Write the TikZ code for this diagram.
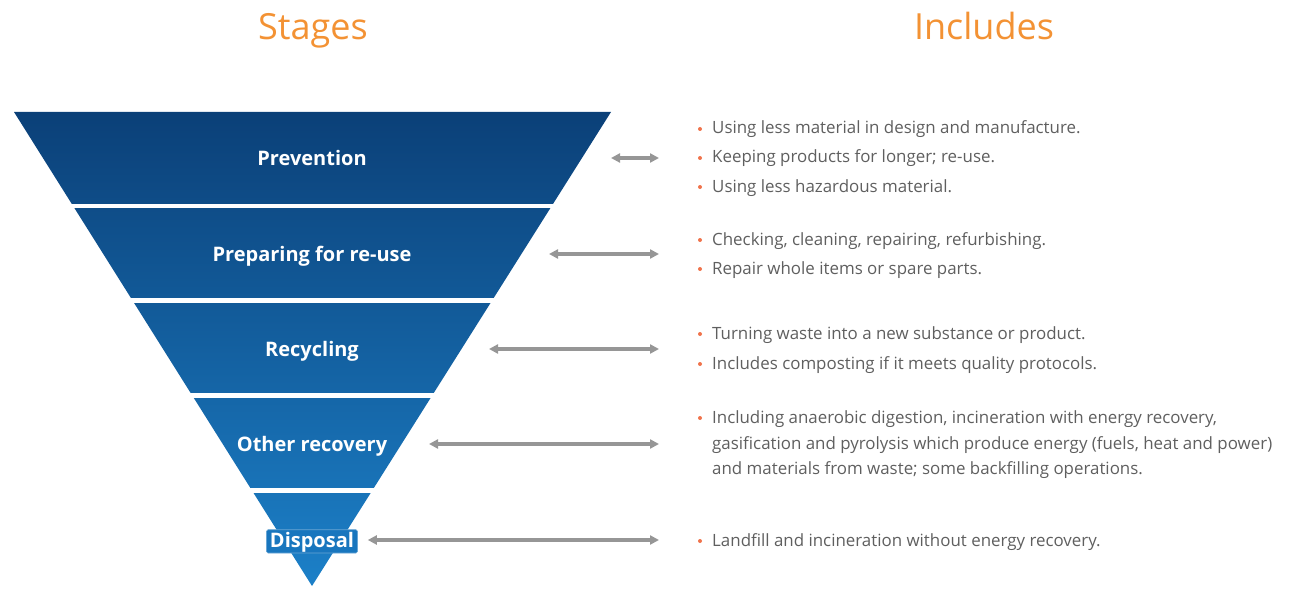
\documentclass[tikz,border=0pt]{standalone}
\usepackage{fontspec}
\setmainfont{Open Sans}
\usetikzlibrary{arrows.meta}
\definecolor{hdr}{RGB}{243,146,52}
\definecolor{topblue}{RGB}{11,64,120}
\definecolor{botblue}{RGB}{28,128,200}
\definecolor{dispblue}{RGB}{24,118,190}
\definecolor{txtgray}{RGB}{95,95,95}
\definecolor{arrgray}{RGB}{150,150,150}
\definecolor{dotorange}{RGB}{240,115,75}

\begin{document}
\begin{tikzpicture}[x=1pt,y=-1pt,
  header/.style={font=\fontsize{36}{40}\selectfont, text=hdr, inner sep=0pt, anchor=base},
  stage/.style={font=\fontsize{20}{24}\selectfont\bfseries, text=white, inner sep=0pt, anchor=base},
  item/.style={font=\fontsize{16.9}{20}\selectfont, text=txtgray, inner sep=0pt, anchor=base west},
  link/.style={draw=arrgray, line width=3.2pt, {Triangle[length=9pt,width=9pt]}-{Triangle[length=9pt,width=9pt]}},
  dot/.style={circle, fill=dotorange, inner sep=0pt, minimum size=4pt}]
\useasboundingbox (0,0) rectangle (1296,591);

% column headings
\node[header] (hstages) at (313,40) {Stages};
\node[header] (hincl) at (984,40) {Includes};

% inverted pyramid, cut into five bands
\shade[top color=topblue, bottom color=botblue] (14,112) -- (611,112) -- (312,586) -- cycle;
\foreach \y in {206,300.5,395.5,490.5}
  \draw[white, line width=4.5pt] (0,\y) -- (620,\y);

% stage names
\node[stage] (prev) at (312,165) {Prevention};
\node[stage] (prep) at (312,261) {Preparing for re-use};
\node[stage] (recy) at (312,356) {Recycling};
\node[stage] (othr) at (312,451) {Other recovery};
\node[stage, fill=dispblue, draw=white!35!dispblue, line width=0.6pt, rounded corners=1.5pt,
      inner xsep=3.5pt, inner ysep=3pt, text height=14.3pt, text depth=3pt] (disp) at (312,547) {Disposal};

% arrow end points
\coordinate (s1) at (611,158); \coordinate (t1) at (659,158);
\coordinate (s2) at (549,254); \coordinate (t2) at (659,254);
\coordinate (s3) at (489,349); \coordinate (t3) at (659,349);
\coordinate (s4) at (429,444); \coordinate (t4) at (659,444);
\coordinate (t5) at (659,540);

\draw[link] (s1) -- (t1);
\draw[link] (s2) -- (t2);
\draw[link] (s3) -- (t3);
\draw[link] (s4) -- (t4);
\draw[link] ([xshift=10pt]disp.east |- t5) -- (t5);

% descriptions
\foreach \yy/\txt [count=\i] in {
  129/{Using less material in design and manufacture.},
  158/{Keeping products for longer; re-use.},
  187/{Using less hazardous material.},
  240/{Checking, cleaning, repairing, refurbishing.},
  269/{Repair whole items or spare parts.},
  334/{Turning waste into a new substance or product.},
  364/{Includes composting if it meets quality protocols.},
  418/{Including anaerobic digestion, incineration with energy recovery,},
  541/{Landfill and incineration without energy recovery.}}{
  \node[dot] (b\i) at (700,\yy) {};
  \node[item] (d\i) at (712,\yy+5) {\txt};
}
\node[item] (d10) at (712,449) {gasification and pyrolysis which produce energy (fuels, heat and power)};
\node[item] (d11) at (712,474) {and materials from waste; some backfilling operations.};
\end{tikzpicture}
\end{document}
